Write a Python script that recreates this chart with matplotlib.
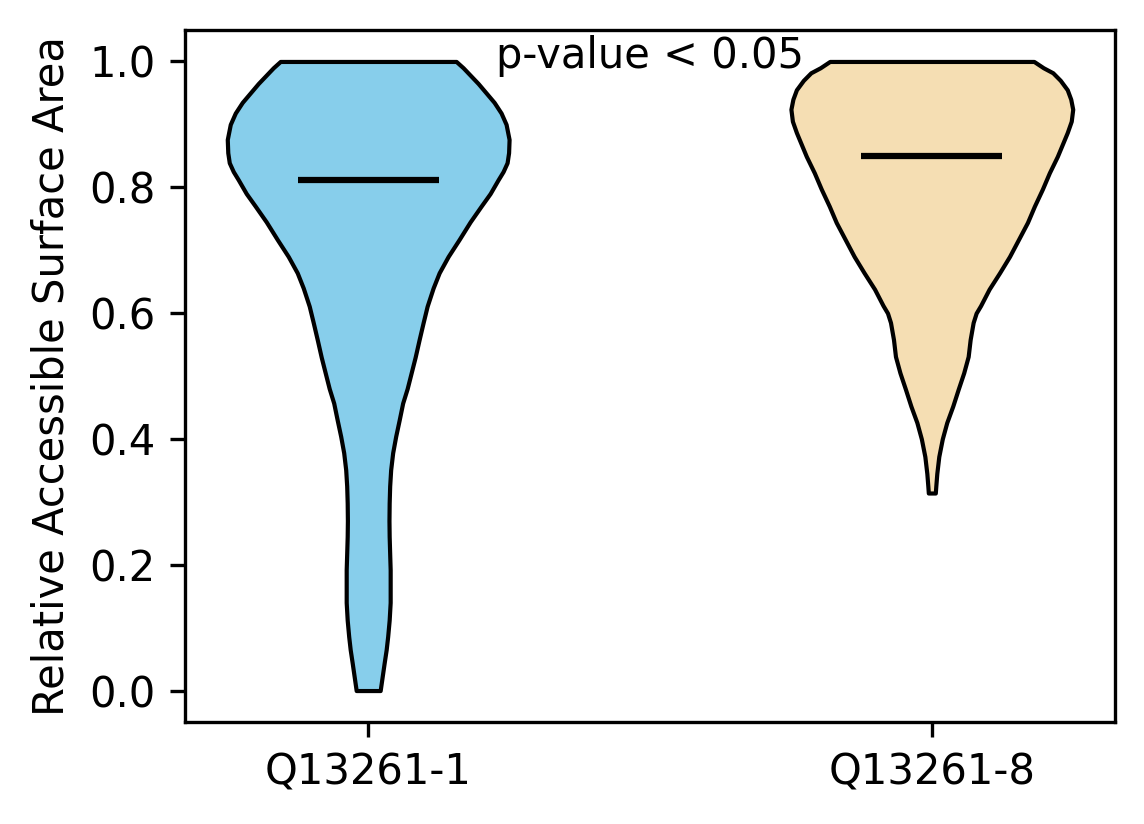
import matplotlib
matplotlib.use("Agg")
import matplotlib.pyplot as plt
import numpy as np

# Category labels and medians
labels = ["Q13261-1", "Q13261-8"]
medians = [0.812, 0.849]
colors = ["skyblue", "wheat"]

# Density profiles (relative half-widths)
q1_coords = [0.000, 0.022, 0.044, 0.065, 0.086, 0.112, 0.140, 0.165, 0.192, 0.218,
             0.245, 0.270, 0.298, 0.325, 0.351, 0.378, 0.404, 0.430, 0.457, 0.480,
             0.505, 0.530, 0.558, 0.585, 0.611, 0.640, 0.664, 0.690, 0.717, 0.745,
             0.770, 0.790, 0.812, 0.825, 0.839, 0.855, 0.876, 0.900, 0.918, 0.935,
             0.950, 0.965, 0.980, 0.990, 1.000]
q1_density = [12, 14, 16, 18, 19.5, 21, 22, 22, 22, 21.5,
              21, 20.8, 21, 21.5, 22.5, 24.5, 27.5, 31, 34.5, 39,
              43, 47, 51, 55, 59, 65, 71, 80, 91, 102,
              113, 122, 130, 135, 139, 140.5, 141, 138, 133, 126,
              118, 110, 101, 95, 88]

q8_coords = [0.314, 0.325, 0.345, 0.372, 0.400, 0.426, 0.452, 0.479, 0.505, 0.531,
             0.558, 0.585, 0.600, 0.612, 0.638, 0.664, 0.690, 0.717, 0.744, 0.770,
             0.797, 0.823, 0.849, 0.868, 0.887, 0.905, 0.924, 0.940, 0.955, 0.970,
             0.982, 0.990, 1.000]
q8_density = [3.5, 4, 5, 7, 10.5, 15, 21, 26.5, 32, 36.5,
              38.5, 41.5, 44.5, 49, 57.5, 68, 78, 87, 96, 103,
              111, 118, 126, 131, 136, 140, 141.5, 139.5, 136, 129,
              121.5, 112, 102.5]

profiles = [(q1_coords, q1_density), (q8_coords, q8_density)]

vpstats = []
for (c, d), med in zip(profiles, medians):
    c = np.asarray(c, float)
    d = np.asarray(d, float)
    vpstats.append(dict(coords=c, vals=d, mean=med, median=med,
                        min=c.min(), max=c.max()))

fig = plt.figure(figsize=(1144 / 300, 824 / 300), dpi=300)
ax = fig.add_axes([185 / 1144, 1 - 722 / 824, (1115 - 185) / 1144, (722 - 30) / 824])

parts = ax.violin(vpstats, positions=[1, 2], widths=0.5,
                  showmeans=False, showextrema=False, showmedians=True)
for body, col in zip(parts["bodies"], colors):
    body.set_facecolor(col)
    body.set_edgecolor("black")
    body.set_linewidth(1)
    body.set_alpha(1)
parts["cmedians"].set_color("black")
parts["cmedians"].set_linewidth(1.5)

ax.set_xticks([1, 2])
ax.set_xticklabels(labels)
ax.set_ylabel("Relative Accessible Surface Area")
ax.set_yticks([0.0, 0.2, 0.4, 0.6, 0.8, 1.0])
ax.text(1.5, 1.008, "p-value < 0.05", ha="center", va="center", fontsize=10)

fig.savefig("out.png", dpi=300)
